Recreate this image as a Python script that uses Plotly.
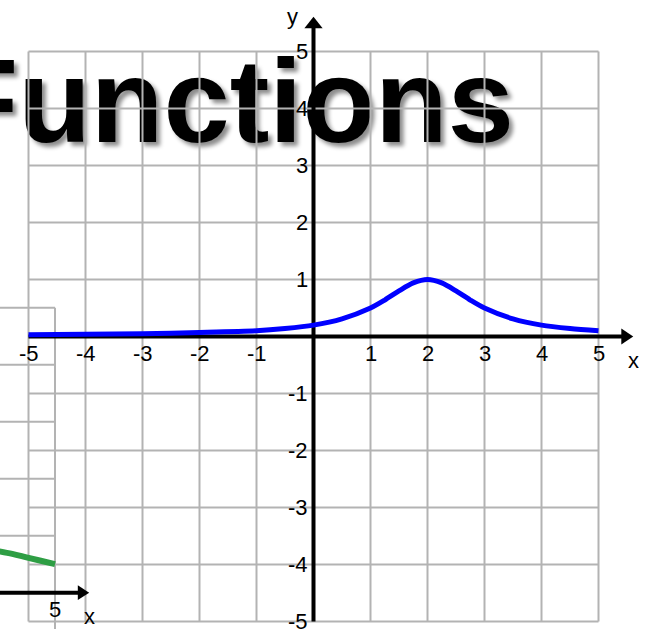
import plotly.graph_objects as go

# ---- main chart: y = f(x), peak at x = 2 ----
blue_x = [-5, -4, -3, -2, -1, -0.5, 0, 0.5, 1, 1.25, 1.5, 1.75, 2, 2.25, 2.5, 2.75, 3, 3.5, 4, 4.5, 5]
blue_y = [0.03, 0.04, 0.05, 0.07, 0.1, 0.14, 0.2, 0.31, 0.5, 0.64, 0.8, 0.94, 1.0, 0.94, 0.8, 0.64, 0.5, 0.31, 0.2, 0.14, 0.1]
main_ticks = [-5, -4, -3, -2, -1, 1, 2, 3, 4, 5]
main_grid = list(range(-5, 6))

# ---- neighbouring chart (partly off the page) ----
green_x = [4.0, 4.25, 4.5, 4.75, 5.0]
green_y = [0.73, 0.68, 0.62, 0.56, 0.5]
side_ticks = [4, 5]
side_grid = list(range(-5, 6))

title_text = "Functions"

GRID = "#b3b3b3"
FONT = "Liberation Sans, Arial, sans-serif"
UNIT = 57.0  # pixels per unit on both charts
W, H = 654, 629


def grid_xy(vals, lo, hi):
    xs, ys = [], []
    for v in vals:
        xs += [v, v, None]
        ys += [lo, hi, None]
        xs += [lo, hi, None]
        ys += [v, v, None]
    return xs, ys


fig = go.Figure()

# --- side chart grid (bottom layer) ---
gx, gy = grid_xy(side_grid, -5, 5)
fig.add_trace(go.Scatter(x=gx, y=gy, mode="lines", line=dict(color=GRID, width=2),
                         xaxis="x", yaxis="y", hoverinfo="skip"))

# --- main chart ---
fig.add_trace(go.Scatter(x=[-1.47], y=[3.93], mode="text", text=[title_text],
                         textposition="middle center",
                         textfont=dict(family=FONT, size=119, color="black", weight="bold",
                                       shadow="4px 4px 4px rgba(0,0,0,0.45)"),
                         xaxis="x2", yaxis="y2", hoverinfo="skip"))
gx, gy = grid_xy(main_grid, -5, 5)
fig.add_trace(go.Scatter(x=gx, y=gy, mode="lines", line=dict(color=GRID, width=2),
                         xaxis="x2", yaxis="y2", hoverinfo="skip"))
# axes
fig.add_trace(go.Scatter(x=[-5, 5.45, None, 0, 0], y=[0, 0, None, -5, 5.45],
                         mode="lines", line=dict(color="black", width=4),
                         xaxis="x2", yaxis="y2", hoverinfo="skip"))
# arrow heads
fig.add_trace(go.Scatter(x=[5.4, 5.61, 5.4, 5.4], y=[-0.14, 0, 0.14, -0.14],
                         mode="lines", fill="toself", fillcolor="black", line=dict(color="black", width=0),
                         xaxis="x2", yaxis="y2", hoverinfo="skip"))
fig.add_trace(go.Scatter(x=[-0.16, 0, 0.16, -0.16], y=[5.41, 5.61, 5.41, 5.41],
                         mode="lines", fill="toself", fillcolor="black", line=dict(color="black", width=0),
                         xaxis="x2", yaxis="y2", hoverinfo="skip"))
fig.add_trace(go.Scatter(x=blue_x, y=blue_y, mode="lines", line=dict(color="#0000ff", width=5, shape="spline", smoothing=0.8),
                         xaxis="x2", yaxis="y2", hoverinfo="skip"))

# --- side chart curve and axis (top layer) ---
fig.add_trace(go.Scatter(x=[-5, 5.42], y=[0, 0], mode="lines", line=dict(color="black", width=4),
                         xaxis="x3", yaxis="y3", hoverinfo="skip"))
fig.add_trace(go.Scatter(x=[5.4, 5.6, 5.4, 5.4], y=[-0.13, 0, 0.13, -0.13],
                         mode="lines", fill="toself", fillcolor="black", line=dict(color="black", width=0),
                         xaxis="x3", yaxis="y3", hoverinfo="skip"))
fig.add_trace(go.Scatter(x=green_x, y=green_y, mode="lines", line=dict(color="#2e9e44", width=6, shape="spline"),
                         xaxis="x3", yaxis="y3", hoverinfo="skip"))

# --- labels ---
ann = []
lab = dict(family=FONT, size=22, color="black")
for t in main_ticks:
    ann.append(dict(x=t, y=-0.3, xref="x2", yref="y2", text=str(t), showarrow=False,
                    xanchor="center", yanchor="middle", font=lab))
for t in main_ticks:
    ann.append(dict(x=-0.07, y=t, xref="x2", yref="y2", text=str(t), showarrow=False,
                    xanchor="right", yanchor="middle", font=lab))
ann.append(dict(x=-0.36, y=5.62, xref="x2", yref="y2", text="y", showarrow=False,
                xanchor="center", yanchor="middle", font=lab))
ann.append(dict(x=5.62, y=-0.42, xref="x2", yref="y2", text="x", showarrow=False,
                xanchor="center", yanchor="middle", font=lab))
for t in side_ticks:
    ann.append(dict(x=t, y=-0.3, xref="x3", yref="y3", text=str(t), showarrow=False,
                    xanchor="center", yanchor="middle", font=lab))
ann.append(dict(x=5.6, y=-0.42, xref="x3", yref="y3", text="x", showarrow=False,
                xanchor="center", yanchor="middle", font=lab))

# axis ranges: origin of the main chart at (313.5, 336.5) px, side chart at (-230, 592.7) px
mx0, my0 = 313.5, 336.5
sx0, sy0 = -230.0, 592.7
main_xr = [-mx0 / UNIT, (W - mx0) / UNIT]
main_yr = [-(H - my0) / UNIT, my0 / UNIT]
side_xr = [-sx0 / UNIT, (W - sx0) / UNIT]
side_yr = [-(H - sy0) / UNIT, sy0 / UNIT]

hidden = dict(visible=False, showgrid=False, zeroline=False, fixedrange=True)
fig.update_layout(
    width=W, height=H, autosize=False,
    margin=dict(l=0, r=0, t=0, b=0),
    paper_bgcolor="white", plot_bgcolor="white",
    showlegend=False,
    xaxis=dict(range=side_xr, domain=[0, 1], **hidden),
    yaxis=dict(range=side_yr, domain=[0, 1], **hidden),
    xaxis2=dict(range=main_xr, overlaying="x", **hidden),
    yaxis2=dict(range=main_yr, overlaying="y", **hidden),
    xaxis3=dict(range=side_xr, overlaying="x", **hidden),
    yaxis3=dict(range=side_yr, overlaying="y", **hidden),
    annotations=ann,
)

fig.write_html("out.html", config=dict(displayModeBar=False))
